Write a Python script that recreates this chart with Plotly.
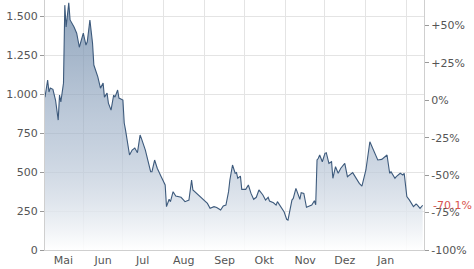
import plotly.graph_objects as go

dates = [
    "2021-05-03","2021-05-04","2021-05-05","2021-05-06","2021-05-07","2021-05-09","2021-05-11","2021-05-13",
    "2021-05-14","2021-05-15","2021-05-17","2021-05-18","2021-05-19","2021-05-21","2021-05-22","2021-05-25",
    "2021-05-27","2021-05-29","2021-06-01","2021-06-03","2021-06-04","2021-06-06","2021-06-08","2021-06-09",
    "2021-06-12","2021-06-14","2021-06-16","2021-06-17","2021-06-19","2021-06-20","2021-06-22","2021-06-24",
    "2021-06-25","2021-06-27","2021-06-28","2021-07-01","2021-07-02","2021-07-03","2021-07-04","2021-07-06",
    "2021-07-08","2021-07-10","2021-07-12","2021-07-14","2021-07-15","2021-07-18","2021-07-22","2021-07-23",
    "2021-07-25","2021-07-27","2021-07-30","2021-08-02","2021-08-03","2021-08-05","2021-08-06","2021-08-08",
    "2021-08-10","2021-08-14","2021-08-16","2021-08-17","2021-08-20","2021-08-22","2021-08-23","2021-08-26",
    "2021-08-30","2021-09-03","2021-09-05","2021-09-08","2021-09-10","2021-09-13","2021-09-15","2021-09-17",
    "2021-09-19","2021-09-20","2021-09-22","2021-09-24","2021-09-25","2021-09-26","2021-09-28","2021-09-29",
    "2021-10-02","2021-10-04","2021-10-06","2021-10-08","2021-10-10","2021-10-12","2021-10-15","2021-10-17",
    "2021-10-19","2021-10-20","2021-10-23","2021-10-25","2021-10-26","2021-10-29","2021-10-31","2021-11-02",
    "2021-11-03","2021-11-06","2021-11-07","2021-11-09","2021-11-10","2021-11-12","2021-11-13","2021-11-15",
    "2021-11-17","2021-11-21","2021-11-23","2021-11-24","2021-11-25","2021-11-26","2021-11-27","2021-11-29",
    "2021-12-01","2021-12-02","2021-12-04","2021-12-06","2021-12-07","2021-12-09","2021-12-11","2021-12-13",
    "2021-12-16","2021-12-18","2021-12-22","2021-12-25","2021-12-27","2021-12-29","2022-01-01","2022-01-04",
    "2022-01-05","2022-01-08","2022-01-10","2022-01-13","2022-01-15","2022-01-17","2022-01-19","2022-01-20",
    "2022-01-23","2022-01-24","2022-01-27","2022-01-29","2022-01-30","2022-02-01","2022-02-03","2022-02-06",
    "2022-02-08","2022-02-09","2022-02-11","2022-02-13",
]
prices = [
    980, 1040, 1090, 1013, 1038, 1030, 960, 833,
    994, 950, 1070, 1570, 1430, 1585, 1475, 1430,
    1390, 1300, 1390, 1314, 1335, 1475, 1326, 1186,
    1110, 1038, 1070, 980, 1006, 942, 897, 994,
    980, 1026, 974, 961, 814, 769, 705, 609,
    641, 654, 624, 737, 716, 641, 502, 502,
    577, 524, 470, 417, 278, 325, 310, 374,
    346, 338, 320, 310, 320, 449, 385, 363,
    331, 299, 267, 278, 273, 256, 282, 288,
    374, 449, 545, 492, 496, 460, 474, 389,
    389, 417, 363, 325, 338, 385, 353, 320,
    338, 314, 303, 288, 310, 267, 246, 197,
    192, 320, 331, 395, 374, 325, 367, 363,
    274, 288, 316, 290, 577, 588, 609, 566,
    620, 624, 556, 566, 460, 534, 492, 524,
    556, 470, 496, 449, 427, 410, 513, 694,
    673, 609, 577, 581, 598, 609, 492, 502,
    460, 470, 492, 481, 492, 342, 320, 278,
    295, 288, 267, 287,
]

base_price = 960
change_label = "-70.1%"
change_value = -70.1

month_starts = ["2021-06-01","2021-07-01","2021-08-01","2021-09-01","2021-10-01",
                "2021-11-01","2021-12-01","2022-01-01","2022-02-01"]
month_mids = ["2021-05-17","2021-06-16","2021-07-16","2021-08-16","2021-09-16",
              "2021-10-16","2021-11-16","2021-12-16","2022-01-16"]
month_labels = ["Mai","Jun","Jul","Aug","Sep","Okt","Nov","Dez","Jan"]

left_ticks = [0, 250, 500, 750, 1000, 1250, 1500]
pct_ticks = [-100, -75, -50, -25, 0, 25, 50]
pct_labels = ["-100%","-75%","-50%","-25%","0%","+25%","+50%"]

y_max = 1603
x_start = "2021-05-03"
x_end = "2022-02-14"

font = dict(family="DejaVu Sans, Verdana, sans-serif", size=11, color="#555")
grid = "#e4e4e4"

fig = go.Figure()
fig.add_trace(go.Scatter(
    x=dates, y=prices, mode="lines",
    line=dict(color="#3d5a7c", width=1.1),
    fill="tozeroy",
    fillgradient=dict(type="vertical", start=0, stop=y_max,
                      colorscale=[[0, "rgba(255,255,255,0.9)"],
                                  [0.5, "rgba(150,170,195,0.6)"],
                                  [1, "rgba(105,133,165,0.75)"]]),
    hoverinfo="skip", showlegend=False,
))
# invisible trace for secondary axis
fig.add_trace(go.Scatter(x=[x_start], y=[0], yaxis="y2", mode="markers",
                         marker=dict(opacity=0), showlegend=False, hoverinfo="skip"))

fig.update_layout(
    width=474, height=269,
    margin=dict(l=45, r=50, t=0, b=19),
    paper_bgcolor="white", plot_bgcolor="white",
    separators=",.",
    font=font,
    xaxis=dict(
        type="date", range=[x_start, x_end],
        tickmode="array", tickvals=month_mids, ticktext=month_labels,
        showgrid=False, ticks="", ticklen=0,
        showline=True, linecolor="#cfcfcf", linewidth=1,
        tickfont=font, zeroline=False,
        minor=dict(tickmode="array", tickvals=month_starts, showgrid=True,
                   gridcolor=grid, gridwidth=1, ticks=""),
    ),
    yaxis=dict(
        range=[0, y_max], tickmode="array", tickvals=left_ticks,
        tickformat=",d",
        showgrid=True, gridcolor=grid, gridwidth=1,
        ticks="outside", ticklen=4, tickcolor="#999",
        showline=True, linecolor="#cfcfcf", zeroline=False,
        tickfont=font,
    ),
    yaxis2=dict(
        overlaying="y", side="right",
        range=[-100, (y_max / base_price - 1) * 100],
        tickmode="array", tickvals=pct_ticks, ticktext=pct_labels,
        showgrid=False, ticks="outside", ticklen=4, tickcolor="#999",
        showline=True, linecolor="#cfcfcf", zeroline=False,
        tickfont=font,
    ),
)

fig.add_annotation(
    x=1, xref="paper", y=change_value, yref="y2",
    text=change_label, showarrow=False, xanchor="left", xshift=7,
    font=dict(family="DejaVu Sans, Verdana, sans-serif", size=11, color="#d9534f"),
)

fig.write_html("out.html")
